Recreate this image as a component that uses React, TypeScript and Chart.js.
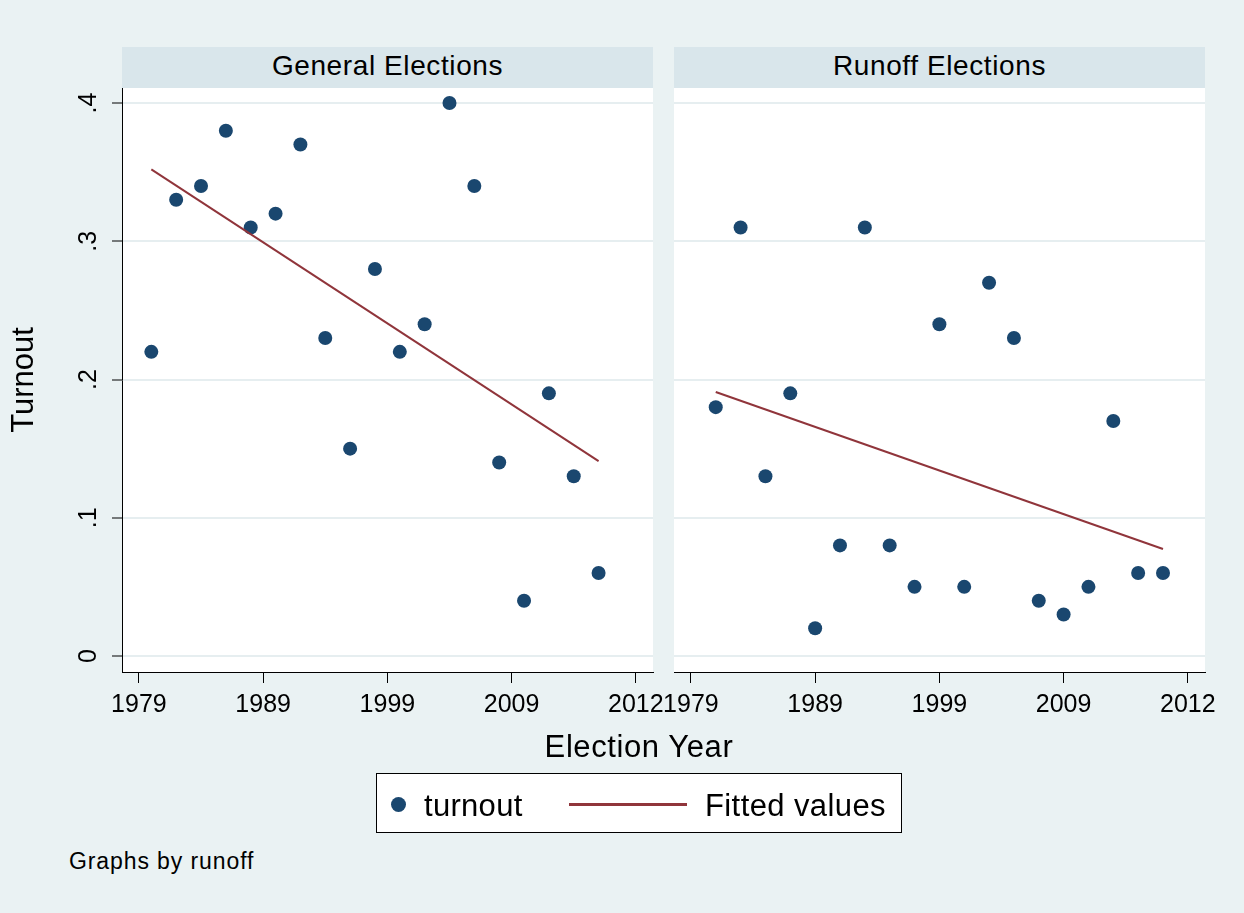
import React, { useEffect, useRef } from "react";
import { Chart, registerables } from "chart.js";

Chart.register(...registerables);

// ---- data ----
const xTickValues = [0, 5, 10, 15, 20];
const xTickLabels = ["1979", "1989", "1999", "2009", "2012"];
const yTickValues = [0, 0.1, 0.2, 0.3, 0.4];
const yTickLabels = ["0", ".1", ".2", ".3", ".4"];

const generalX = [0.5, 1.5, 2.5, 3.5, 4.5, 5.5, 6.5, 7.5, 8.5, 9.5, 10.5, 11.5, 12.5, 13.5, 14.5, 15.5, 16.5, 17.5, 18.5];
const generalTurnout = [0.22, 0.33, 0.34, 0.38, 0.31, 0.32, 0.37, 0.23, 0.15, 0.28, 0.22, 0.24, 0.4, 0.34, 0.14, 0.04, 0.19, 0.13, 0.06];
const generalFitX = [0.5, 18.5];
const generalFitted = [0.352, 0.141];

const runoffX = [1, 2, 3, 4, 5, 6, 7, 8, 9, 10, 11, 12, 13, 14, 15, 16, 17, 18, 19];
const runoffTurnout = [0.18, 0.31, 0.13, 0.19, 0.02, 0.08, 0.31, 0.08, 0.05, 0.24, 0.05, 0.27, 0.23, 0.04, 0.03, 0.05, 0.17, 0.06, 0.06];
const runoffFitX = [1, 19];
const runoffFitted = [0.191, 0.0774];

// ---- styles ----
const FONT = '"Liberation Sans", Arial, Helvetica, sans-serif';
const BG = "#eaf2f3";
const STRIP = "#d9e6eb";
const GRID = "#e6eef0";
const NAVY = "#1a476f";
const MAROON = "#90353b";

const X_MIN = -0.68;
const X_MAX = 20.69;
const Y_MIN = -0.0116;
const Y_MAX = 0.4109;

const plotBg = {
  id: "plotBg",
  beforeDraw(chart: any) {
    const { ctx, chartArea } = chart;
    ctx.save();
    ctx.fillStyle = "#ffffff";
    ctx.fillRect(chartArea.left, chartArea.top, chartArea.right - chartArea.left, chartArea.bottom - chartArea.top);
    ctx.restore();
  },
};

function lookup(values: number[], labels: string[], v: number) {
  const i = values.findIndex((t) => Math.abs(t - v) < 1e-9);
  return i >= 0 ? labels[i] : "";
}

type PanelProps = {
  xs: number[];
  ys: number[];
  fitX: number[];
  fitY: number[];
  showYAxis: boolean;
  left: number;
  width: number;
  padLeft: number;
  padRight: number;
};

function Panel({ xs, ys, fitX, fitY, showYAxis, left, width, padLeft, padRight }: PanelProps) {
  const ref = useRef<HTMLCanvasElement>(null);
  useEffect(() => {
    const chart = new Chart(ref.current as HTMLCanvasElement, {
      type: "scatter",
      data: {
        datasets: [
          {
            label: "Fitted values",
            data: fitX.map((x, i) => ({ x, y: fitY[i] })),
            showLine: true,
            borderColor: MAROON,
            borderWidth: 2,
            pointRadius: 0,
            pointHoverRadius: 0,
            fill: false,
            order: 0,
          } as any,
          {
            label: "turnout",
            data: xs.map((x, i) => ({ x, y: ys[i] })),
            backgroundColor: NAVY,
            borderWidth: 0,
            pointRadius: 7,
            pointHoverRadius: 7,
            order: 1,
          } as any,
        ],
      },
      options: {
        animation: false,
        responsive: false,
        devicePixelRatio: 1,
        events: [],
        layout: { padding: { top: 88, bottom: 8, left: padLeft, right: padRight } },
        plugins: { legend: { display: false }, tooltip: { enabled: false } },
        scales: {
          x: {
            type: "linear",
            min: X_MIN,
            max: X_MAX,
            afterBuildTicks: (s: any) => {
              s.ticks = xTickValues.map((v) => ({ value: v }));
            },
            afterFit: (s: any) => {
              s.height = 60;
            },
            ticks: {
              callback: (v: any) => lookup(xTickValues, xTickLabels, Number(v)),
              font: { family: FONT, size: 25 },
              color: "#000",
              padding: 7,
              maxRotation: 0,
              autoSkip: false,
            },
            grid: {
              drawOnChartArea: false,
              drawTicks: true,
              tickLength: 11,
              tickColor: "#000",
              tickWidth: 1,
            },
            border: { display: true, color: "#000", width: 1 },
          },
          y: {
            type: "linear",
            min: Y_MIN,
            max: Y_MAX,
            afterBuildTicks: (s: any) => {
              s.ticks = yTickValues.map((v) => ({ value: v }));
            },
            afterFit: (s: any) => {
              s.width = showYAxis ? 122 : 0;
            },
            ticks: {
              display: showYAxis,
              callback: (v: any) => lookup(yTickValues, yTickLabels, Number(v)),
              font: { family: FONT, size: 25 },
              color: "#000",
              minRotation: 90,
              maxRotation: 90,
              crossAlign: "center",
              padding: 12,
              autoSkip: false,
            },
            grid: {
              color: GRID,
              lineWidth: 2,
              drawTicks: showYAxis,
              tickLength: 10,
              tickColor: "#000",
              tickWidth: 1,
            },
            border: { display: showYAxis, color: "#000", width: 1 },
            title: {
              display: showYAxis,
              text: "Turnout",
              font: { family: FONT, size: 31 },
              color: "#000",
              padding: { top: 6, bottom: 0 },
            },
          },
        },
      } as any,
      plugins: [plotBg],
    });
    return () => chart.destroy();
  }, []);
  return (
    <canvas
      ref={ref}
      width={width}
      height={740}
      style={{ position: "absolute", left, top: 0, width, height: 740 }}
    />
  );
}

export default function App() {
  const strip = (left: number, text: string) => (
    <div
      style={{
        position: "absolute",
        left,
        top: 47,
        width: 531,
        height: 41,
        background: STRIP,
        textAlign: "center",
        fontSize: 28,
        lineHeight: "37px",
        letterSpacing: "0.6px",
        color: "#000",
      }}
    >
      {text}
    </div>
  );
  return (
    <div
      style={{
        position: "absolute",
        left: 0,
        top: 0,
        width: 1244,
        height: 913,
        background: BG,
        overflow: "hidden",
        fontFamily: FONT,
      }}
    >
      {strip(122, "General Elections")}
      {strip(674, "Runoff Elections")}
      <Panel
        xs={generalX}
        ys={generalTurnout}
        fitX={generalFitX}
        fitY={generalFitted}
        showYAxis={true}
        left={0}
        width={680}
        padLeft={0}
        padRight={27}
      />
      <Panel
        xs={runoffX}
        ys={runoffTurnout}
        fitX={runoffFitX}
        fitY={runoffFitted}
        showYAxis={false}
        left={640}
        width={604}
        padLeft={34}
        padRight={39}
      />
      <div
        style={{
          position: "absolute",
          left: 439,
          top: 731,
          width: 400,
          textAlign: "center",
          fontSize: 31,
          lineHeight: "31px",
          letterSpacing: "0.6px",
          color: "#000",
        }}
      >
        Election Year
      </div>
      <div
        style={{
          position: "absolute",
          left: 376,
          top: 773,
          width: 524,
          height: 58,
          background: "#fff",
          border: "1px solid #000",
        }}
      >
        <div
          style={{
            position: "absolute",
            left: 14,
            top: 23,
            width: 15,
            height: 15,
            borderRadius: "50%",
            background: NAVY,
          }}
        />
        <div
          style={{ position: "absolute", left: 47, top: 16, fontSize: 31, lineHeight: "31px", letterSpacing: "0.3px", color: "#000", whiteSpace: "nowrap" }}
        >
          turnout
        </div>
        <div
          style={{ position: "absolute", left: 192, top: 29, width: 118, height: 3, background: MAROON }}
        />
        <div
          style={{ position: "absolute", left: 328, top: 16, fontSize: 31, lineHeight: "31px", letterSpacing: "0.4px", color: "#000", whiteSpace: "nowrap" }}
        >
          Fitted values
        </div>
      </div>
      <div
        style={{
          position: "absolute",
          left: 69,
          top: 850,
          fontSize: 23,
          lineHeight: "23px",
          letterSpacing: "0.9px",
          color: "#000",
          whiteSpace: "nowrap",
        }}
      >
        Graphs by runoff
      </div>
    </div>
  );
}
